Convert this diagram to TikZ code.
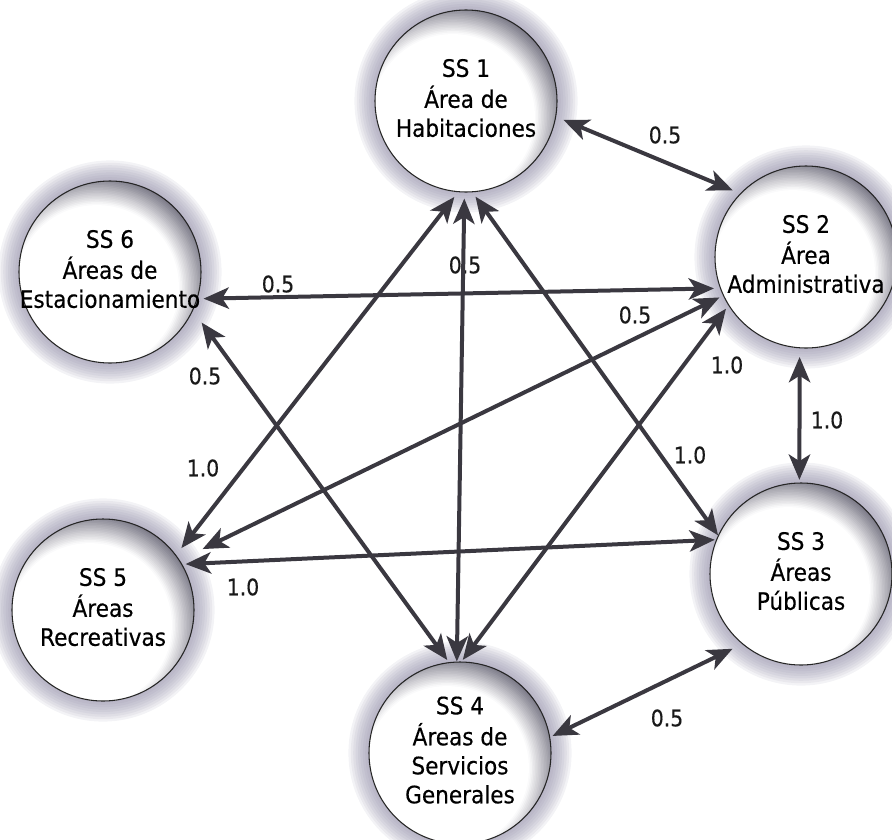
\documentclass[tikz,border=0pt]{standalone}
\usepackage{fontspec}
\setmainfont{DejaVu Sans}[FakeStretch=0.9,FakeBold=0.4]
\usetikzlibrary{arrows.meta,backgrounds}

\definecolor{arrowgray}{RGB}{58,56,64}
\definecolor{glowgray}{RGB}{138,134,162}
\definecolor{shadedark}{RGB}{100,98,114}
\newcommand{\sstext}[1]{\makebox[0pt]{\begin{tabular}{@{}c@{}}#1\end{tabular}}}

\tikzset{
	sscircle/.style={circle, minimum size=136.5pt, inner sep=0pt,
		draw=black!85, line width=0.8pt, fill=white,
		path picture={
			\foreach \k [evaluate=\k as \pc using {max(0,int(100-4.6*\k))},
				evaluate=\k as \rr using 116-1.55*\k] in {0,...,24}
				\fill [shadedark!\pc!white] ([shift={(-13,-15)}]path picture bounding box.center) circle (\rr);
		},
		font=\fontsize{18}{21.75}\selectfont, text=black},
	weight/.style={font=\fontsize{17}{19}\selectfont, text=black!90, inner sep=1pt},
	link/.style={draw=arrowgray, line width=3pt,
		{Stealth[length=19pt,width=16pt,inset=5pt]}-{Stealth[length=19pt,width=16pt,inset=5pt]}}
}

\begin{document}
\begin{tikzpicture}[x=0.75pt,y=0.75pt,yscale=-1,xscale=1]
\useasboundingbox (0,0) rectangle (892,839);

% subsistemas
\node [sscircle] (s1) at (466,101) {\sstext{SS 1\\Área de\\Habitaciones}};
\node [sscircle] (s2) at (806,257) {\sstext{SS 2\\Área\\Administrativa}};
\node [sscircle] (s3) at (801,574) {\sstext{SS 3\\Áreas\\Públicas}};
\node [sscircle] (s4) at (460,753) {\sstext{SS 4\\Áreas de\\Servicios\\Generales}};
\node [sscircle] (s5) at (103,610) {\sstext{SS 5\\Áreas\\Recreativas}};
\node [sscircle] (s6) at (110,272) {\sstext{SS 6\\Áreas de\\Estacionamiento}};

% halo
\begin{scope}[on background layer]
\foreach \n in {s1,s2,s3,s4,s5,s6}
	\foreach \k in {1,...,9}
		\fill [glowgray, opacity=0.1] (\n.center) circle ({90+2.4*\k});
\end{scope}

% pesos
\node [weight] (w12) at (665,135) {0.5};
\node [weight] (w62) at (278,284) {0.5};
\node [weight] (w14) at (465,265) {0.5};
\node [weight] (w25) at (635,315) {0.5};
\node [weight] (w64) at (205,376) {0.5};
\node [weight] (w15) at (203,468) {1.0};
\node [weight] (w24) at (727,365) {1.0};
\node [weight] (w13) at (690,455) {1.0};
\node [weight] (w23) at (827,420) {1.0};
\node [weight] (w53) at (243,587) {1.0};
\node [weight] (w43) at (667,718) {0.5};

% relaciones
\draw [link, shorten <=6pt, shorten >=6pt] (s1.350) -- (s2.136);
\draw [link, shorten <=4.5pt, shorten >=4.5pt] (s6.343) -- (s2.200);
\draw [link, shorten <=4.5pt] (s1.269) -- (s4.92);
\draw [link, shorten <=4.5pt, shorten >=6.5pt] (s1.265) -- (s5.37);
\draw [link, shorten <=4pt] (s1.274) -- (s3.155);
\draw [link, shorten <=11pt, shorten >=2pt] (s6.335) -- (s4.97);
\draw [link, shorten <=3pt, shorten >=19pt] (s2.205) -- (s5.33);
\draw [link, shorten <=3pt, shorten >=1.5pt] (s2.212) -- (s4.89);
\draw [link, shorten <=6.5pt, shorten >=2pt] (s2.266) -- (s3.91);
\draw [link, shorten <=2.5pt, shorten >=1pt] (s5.30) -- (s3.158);
\draw [link, shorten <=2pt, shorten >=8pt] (s4.10) -- (s3.230);

\end{tikzpicture}
\end{document}
